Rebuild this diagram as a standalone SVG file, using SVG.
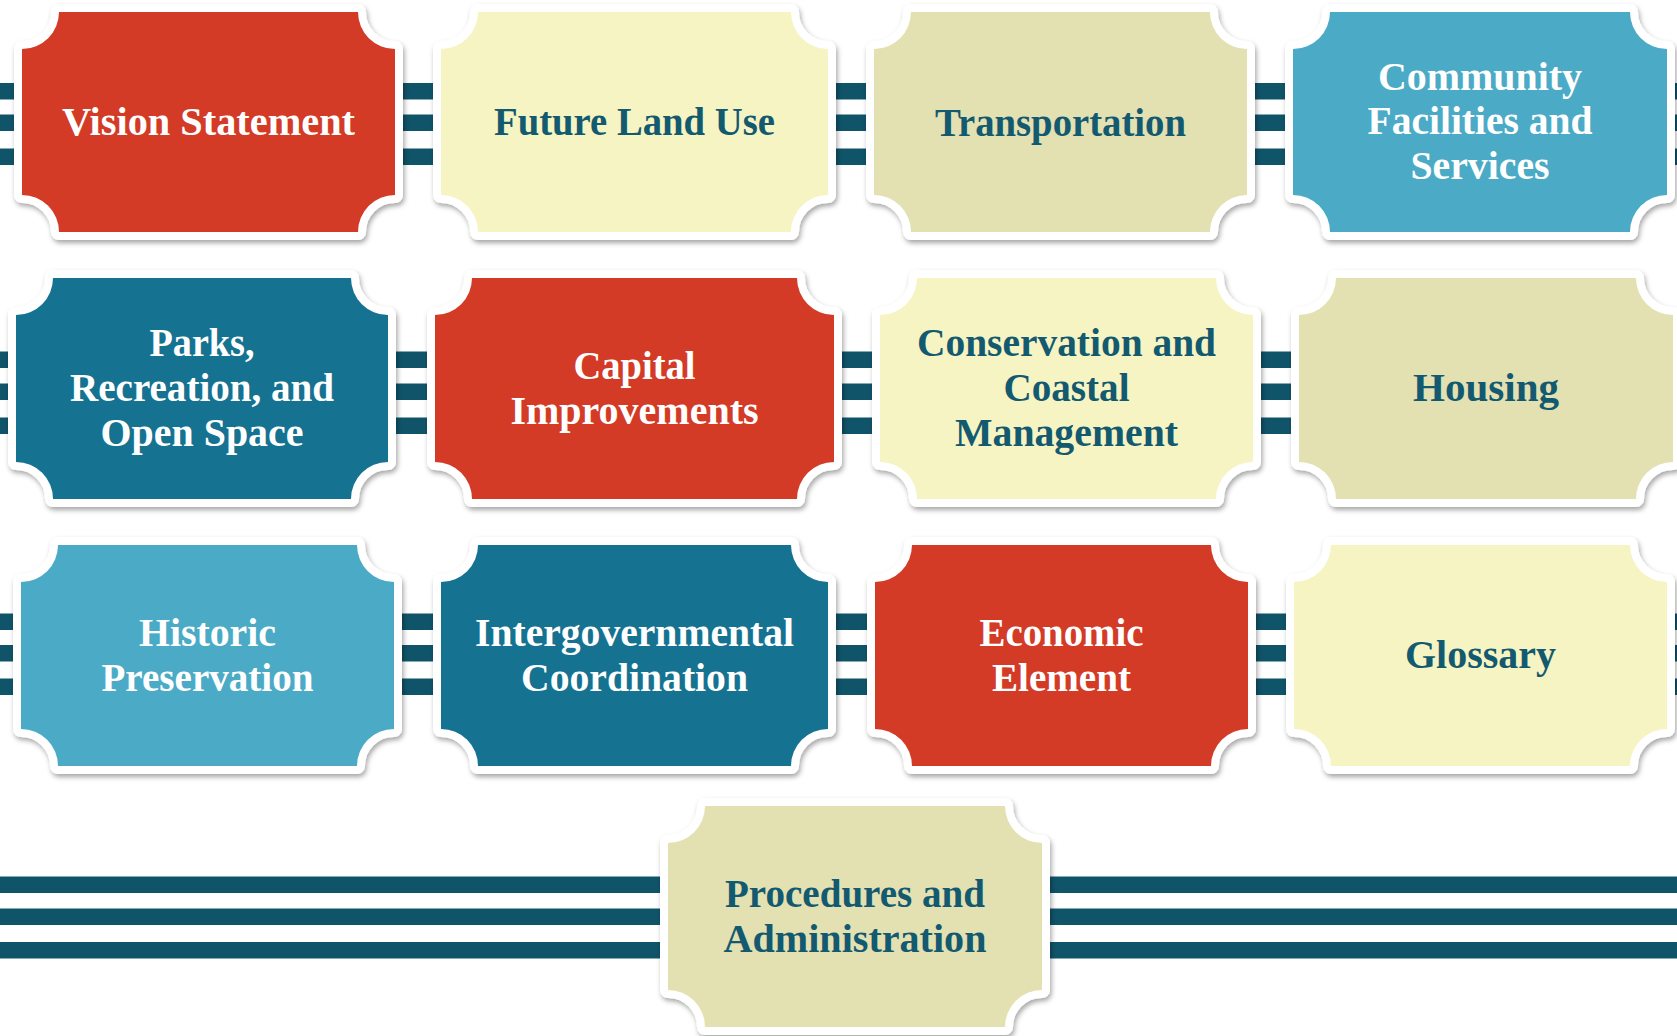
<svg xmlns="http://www.w3.org/2000/svg" width="1677" height="1036" viewBox="0 0 1677 1036">
<defs>
<filter id="sh" x="-5%" y="-5%" width="110%" height="115%">
<feDropShadow dx="1.5" dy="3" stdDeviation="2.5" flood-color="#000" flood-opacity="0.35"/>
</filter>
<style>
.card{stroke:#fff;stroke-width:16;stroke-linejoin:round;paint-order:stroke;filter:url(#sh)}
.red{fill:#D33A28}.pale{fill:#F6F4C2}.khaki{fill:#E3E0B1}.lblue{fill:#4BABC6}.teal{fill:#177291}
.stripe{fill:#10546A}
text{font-family:"Liberation Serif","Times New Roman",serif;font-weight:bold;font-size:39px;text-anchor:middle}
.w{fill:#fff}.d{fill:#135A70}
</style>
</defs>
<rect width="1677" height="1036" fill="#fff"/>
<g id="connectors">
<rect class="stripe" x="0" y="83" width="1677" height="16.5"/>
<rect class="stripe" x="0" y="114.5" width="1677" height="16.5"/>
<rect class="stripe" x="0" y="148.5" width="1677" height="16.5"/>
<rect class="stripe" x="0" y="351.5" width="1677" height="16.5"/>
<rect class="stripe" x="0" y="383.5" width="1677" height="16.5"/>
<rect class="stripe" x="0" y="417.5" width="1677" height="16.5"/>
<rect class="stripe" x="0" y="613.5" width="1677" height="16.5"/>
<rect class="stripe" x="0" y="645" width="1677" height="16.5"/>
<rect class="stripe" x="0" y="678.5" width="1677" height="16.5"/>
<rect class="stripe" x="0" y="876.5" width="1677" height="16.5"/>
<rect class="stripe" x="0" y="908.5" width="1677" height="16.5"/>
<rect class="stripe" x="0" y="942" width="1677" height="16.5"/>
</g>
<g id="n1">
<path class="card red" d="M59,12 H358 A37,37 0 0 0 395,49 V195 A37,37 0 0 0 358,232 H59 A37,37 0 0 0 22,195 V49 A37,37 0 0 0 59,12 Z"/>
<text class="w" x="208.5" y="135" textLength="293" lengthAdjust="spacingAndGlyphs">Vision Statement</text>
</g>
<g id="n2">
<path class="card pale" d="M478,12 H791 A37,37 0 0 0 828,49 V195 A37,37 0 0 0 791,232 H478 A37,37 0 0 0 441,195 V49 A37,37 0 0 0 478,12 Z"/>
<text class="d" x="634.5" y="135" textLength="281" lengthAdjust="spacingAndGlyphs">Future Land Use</text>
</g>
<g id="n3">
<path class="card khaki" d="M911,12 H1210 A37,37 0 0 0 1247,49 V195 A37,37 0 0 0 1210,232 H911 A37,37 0 0 0 874,195 V49 A37,37 0 0 0 911,12 Z"/>
<text class="d" x="1060.5" y="136" textLength="251" lengthAdjust="spacingAndGlyphs">Transportation</text>
</g>
<g id="n4">
<path class="card lblue" d="M1330,12 H1630 A37,37 0 0 0 1667,49 V195 A37,37 0 0 0 1630,232 H1330 A37,37 0 0 0 1293,195 V49 A37,37 0 0 0 1330,12 Z"/>
<text class="w" x="1480" y="90" textLength="204" lengthAdjust="spacingAndGlyphs">Community</text>
<text class="w" x="1480" y="134" textLength="225" lengthAdjust="spacingAndGlyphs">Facilities and</text>
<text class="w" x="1480" y="179" textLength="139" lengthAdjust="spacingAndGlyphs">Services</text>
</g>
<g id="n5">
<path class="card teal" d="M53,278 H351 A37,37 0 0 0 388,315 V462 A37,37 0 0 0 351,499 H53 A37,37 0 0 0 16,462 V315 A37,37 0 0 0 53,278 Z"/>
<text class="w" x="202" y="356" textLength="105" lengthAdjust="spacingAndGlyphs">Parks,</text>
<text class="w" x="202" y="401" textLength="264" lengthAdjust="spacingAndGlyphs">Recreation, and</text>
<text class="w" x="202" y="446" textLength="203" lengthAdjust="spacingAndGlyphs">Open Space</text>
</g>
<g id="n6">
<path class="card red" d="M472,278 H797 A37,37 0 0 0 834,315 V462 A37,37 0 0 0 797,499 H472 A37,37 0 0 0 435,462 V315 A37,37 0 0 0 472,278 Z"/>
<text class="w" x="634.5" y="379" textLength="122" lengthAdjust="spacingAndGlyphs">Capital</text>
<text class="w" x="634.5" y="423.5" textLength="248" lengthAdjust="spacingAndGlyphs">Improvements</text>
</g>
<g id="n7">
<path class="card pale" d="M917,278 H1216 A37,37 0 0 0 1253,315 V462 A37,37 0 0 0 1216,499 H917 A37,37 0 0 0 880,462 V315 A37,37 0 0 0 917,278 Z"/>
<text class="d" x="1066.5" y="356" textLength="299" lengthAdjust="spacingAndGlyphs">Conservation and</text>
<text class="d" x="1066.5" y="401" textLength="126" lengthAdjust="spacingAndGlyphs">Coastal</text>
<text class="d" x="1066.5" y="446" textLength="223" lengthAdjust="spacingAndGlyphs">Management</text>
</g>
<g id="n8">
<path class="card khaki" d="M1336,278 H1636 A37,37 0 0 0 1673,315 V462 A37,37 0 0 0 1636,499 H1336 A37,37 0 0 0 1299,462 V315 A37,37 0 0 0 1336,278 Z"/>
<text class="d" x="1486" y="401" textLength="146" lengthAdjust="spacingAndGlyphs">Housing</text>
</g>
<g id="n9">
<path class="card lblue" d="M58,545 H357 A37,37 0 0 0 394,582 V729 A37,37 0 0 0 357,766 H58 A37,37 0 0 0 21,729 V582 A37,37 0 0 0 58,545 Z"/>
<text class="w" x="207.5" y="645.5" textLength="137" lengthAdjust="spacingAndGlyphs">Historic</text>
<text class="w" x="207.5" y="690.5" textLength="212" lengthAdjust="spacingAndGlyphs">Preservation</text>
</g>
<g id="n10">
<path class="card teal" d="M478,545 H791 A37,37 0 0 0 828,582 V729 A37,37 0 0 0 791,766 H478 A37,37 0 0 0 441,729 V582 A37,37 0 0 0 478,545 Z"/>
<text class="w" x="634.5" y="645.5" textLength="319" lengthAdjust="spacingAndGlyphs">Intergovernmental</text>
<text class="w" x="634.5" y="690.5" textLength="227" lengthAdjust="spacingAndGlyphs">Coordination</text>
</g>
<g id="n11">
<path class="card red" d="M912,545 H1211 A37,37 0 0 0 1248,582 V729 A37,37 0 0 0 1211,766 H912 A37,37 0 0 0 875,729 V582 A37,37 0 0 0 912,545 Z"/>
<text class="w" x="1061.5" y="646" textLength="164" lengthAdjust="spacingAndGlyphs">Economic</text>
<text class="w" x="1061.5" y="691" textLength="139" lengthAdjust="spacingAndGlyphs">Element</text>
</g>
<g id="n12">
<path class="card pale" d="M1331,545 H1630 A37,37 0 0 0 1667,582 V729 A37,37 0 0 0 1630,766 H1331 A37,37 0 0 0 1294,729 V582 A37,37 0 0 0 1331,545 Z"/>
<text class="d" x="1480.5" y="668" textLength="151" lengthAdjust="spacingAndGlyphs">Glossary</text>
</g>
<g id="n13">
<path class="card khaki" d="M705,806 H1005 A37,37 0 0 0 1042,843 V990 A37,37 0 0 0 1005,1027 H705 A37,37 0 0 0 668,990 V843 A37,37 0 0 0 705,806 Z"/>
<text class="d" x="855" y="907" textLength="260" lengthAdjust="spacingAndGlyphs">Procedures and</text>
<text class="d" x="855" y="951.5" textLength="263" lengthAdjust="spacingAndGlyphs">Administration</text>
</g>
</svg>
